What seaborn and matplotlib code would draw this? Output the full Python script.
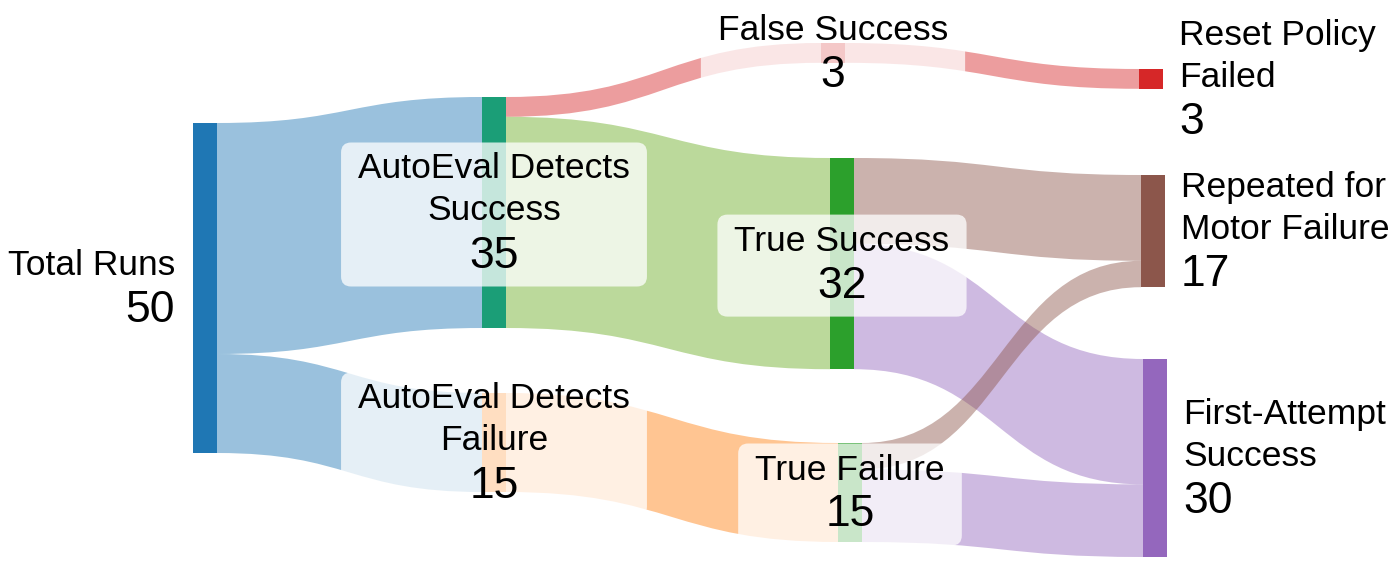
"""
Sankey of AutoEval outcomes, drawn with matplotlib patches on a seaborn theme.
"""

import matplotlib
matplotlib.use("Agg")
import matplotlib.pyplot as plt
from matplotlib.path import Path
from matplotlib.patches import PathPatch, Rectangle, FancyBboxPatch
import seaborn as sns


# ─────────────────────────────────────────────────────────────────────────────
# DATA
# ─────────────────────────────────────────────────────────────────────────────
node_labels = [
    "Total Runs",
    "AutoEval Detects\nSuccess",
    "AutoEval Detects\nFailure",
    "False Success",
    "True Success",
    "True Failure",
    "Reset Policy\nFailed",
    "Repeated for\nMotor Failure",
    "First-Attempt\nSuccess",
]
node_colors = ["#1f77b4", "#1b9e77", "#ff7f0e", "#d62728", "#2ca02c",
               "#2ca02c", "#d62728", "#8c564b", "#9467bd"]

link_source = [0, 0, 1, 1, 2, 3, 4, 4, 5, 5]
link_target = [1, 2, 3, 4, 5, 6, 7, 8, 7, 8]
link_value  = [35, 15, 3, 32, 15, 3, 13, 19, 4, 11]
link_colors = ["#1f77b4", "#1f77b4", "#d62728", "#68ab21", "#ff7f0e",
               "#d62728", "#8c564b", "#9467bd", "#8c564b", "#9467bd"]

# ─────────────────────────────────────────────────────────────────────────────
# LAYOUT (figure pixels)
# ─────────────────────────────────────────────────────────────────────────────
W, H       = 1399, 566
PX_PER_RUN = 6.6
NODE_W     = 24
LINK_ALPHA = 0.45
node_left  = [193, 482, 482, 821, 830, 838, 1139, 1141, 1143]
node_top   = [123, 97, 393, 43, 158, 443, 69, 175, 359]
label_side = ["left", "center", "center", "center", "center", "center",
              "right", "right", "right"]

LABEL_PT, NUMBER_PT = 25.5, 32
LINE_GAP, NUMBER_GAP = 42, 45

sns.set_theme(style="white")
plt.rcParams["font.family"] = ["Liberation Sans", "DejaVu Sans"]

n_nodes = len(node_labels)
node_in  = [sum(v for t, v in zip(link_target, link_value) if t == i) for i in range(n_nodes)]
node_out = [sum(v for s, v in zip(link_source, link_value) if s == i) for i in range(n_nodes)]
node_val = [max(a, b) for a, b in zip(node_in, node_out)]
node_h   = [v * PX_PER_RUN for v in node_val]

fig = plt.figure(figsize=(W / 100, H / 100), dpi=100)
ax = fig.add_axes([0, 0, 1, 1])
ax.set_xlim(0, W)
ax.set_ylim(H, 0)
ax.axis("off")

# ─────────────────────────────────────────────────────────────────────────────
# LINKS
# ─────────────────────────────────────────────────────────────────────────────
links = list(range(len(link_value)))
src_off = {}
tgt_off = {}
for i in range(n_nodes):
    out_links = sorted([k for k in links if link_source[k] == i],
                       key=lambda k: node_top[link_target[k]])
    y = node_top[i]
    for k in out_links:
        src_off[k] = y
        y += link_value[k] * PX_PER_RUN
    in_links = sorted([k for k in links if link_target[k] == i],
                      key=lambda k: node_top[link_source[k]])
    y = node_top[i]
    for k in in_links:
        tgt_off[k] = y
        y += link_value[k] * PX_PER_RUN

for k in links:
    s, t = link_source[k], link_target[k]
    h = link_value[k] * PX_PER_RUN
    x0 = node_left[s] + NODE_W
    x1 = node_left[t]
    xm = (x0 + x1) / 2
    y0, y1 = src_off[k], tgt_off[k]
    verts = [(x0, y0), (xm, y0), (xm, y1), (x1, y1),
             (x1, y1 + h), (xm, y1 + h), (xm, y0 + h), (x0, y0 + h), (x0, y0)]
    codes = [Path.MOVETO, Path.CURVE4, Path.CURVE4, Path.CURVE4,
             Path.LINETO, Path.CURVE4, Path.CURVE4, Path.CURVE4, Path.CLOSEPOLY]
    ax.add_patch(PathPatch(Path(verts, codes), fc=link_colors[k], alpha=LINK_ALPHA,
                           ec="none", lw=0, zorder=1))

# ─────────────────────────────────────────────────────────────────────────────
# NODES
# ─────────────────────────────────────────────────────────────────────────────
for i in range(n_nodes):
    ax.add_patch(Rectangle((node_left[i], node_top[i]), NODE_W, node_h[i],
                           fc=node_colors[i], ec="none", zorder=2))

# ─────────────────────────────────────────────────────────────────────────────
# LABELS
# ─────────────────────────────────────────────────────────────────────────────
fig.canvas.draw()
renderer = fig.canvas.get_renderer()
inv = ax.transData.inverted()

for i in range(n_nodes):
    lines = node_labels[i].split("\n")
    span = LINE_GAP * (len(lines) - 1) + NUMBER_GAP
    yc = node_top[i] + node_h[i] / 2
    ys = [yc - span / 2 + LINE_GAP * j for j in range(len(lines))]
    ys.append(ys[-1] + NUMBER_GAP)

    side = label_side[i]
    if side == "left":
        x, ha = node_left[i] - 18, "right"
    elif side == "right":
        x, ha = node_left[i] + NODE_W + 16, "left"
    else:
        x, ha = node_left[i] + NODE_W / 2, "center"

    texts = []
    for j, line in enumerate(lines):
        texts.append(ax.text(x, ys[j], line, ha=ha, va="center",
                             fontsize=LABEL_PT, color="black", zorder=4))
    texts.append(ax.text(x, ys[-1], str(node_val[i]), ha=ha, va="center",
                         fontsize=NUMBER_PT, color="black", zorder=4))

    if side == "center":
        bbs = [t.get_window_extent(renderer) for t in texts]
        xs0 = min(b.x0 for b in bbs); xs1 = max(b.x1 for b in bbs)
        ys0 = min(b.y0 for b in bbs); ys1 = max(b.y1 for b in bbs)
        (bx0, by0), (bx1, by1) = inv.transform([(xs0, ys0), (xs1, ys1)])
        left, right = min(bx0, bx1) - 17, max(bx0, bx1) + 17
        top, bottom = min(by0, by1) - 10, max(by0, by1) + 10
        ax.add_patch(FancyBboxPatch((left, top), right - left, bottom - top,
                                    boxstyle="round,pad=0,rounding_size=10",
                                    fc="white", alpha=0.75, ec="none", zorder=3))

fig.savefig("out.png", dpi=100)
plt.close(fig)
